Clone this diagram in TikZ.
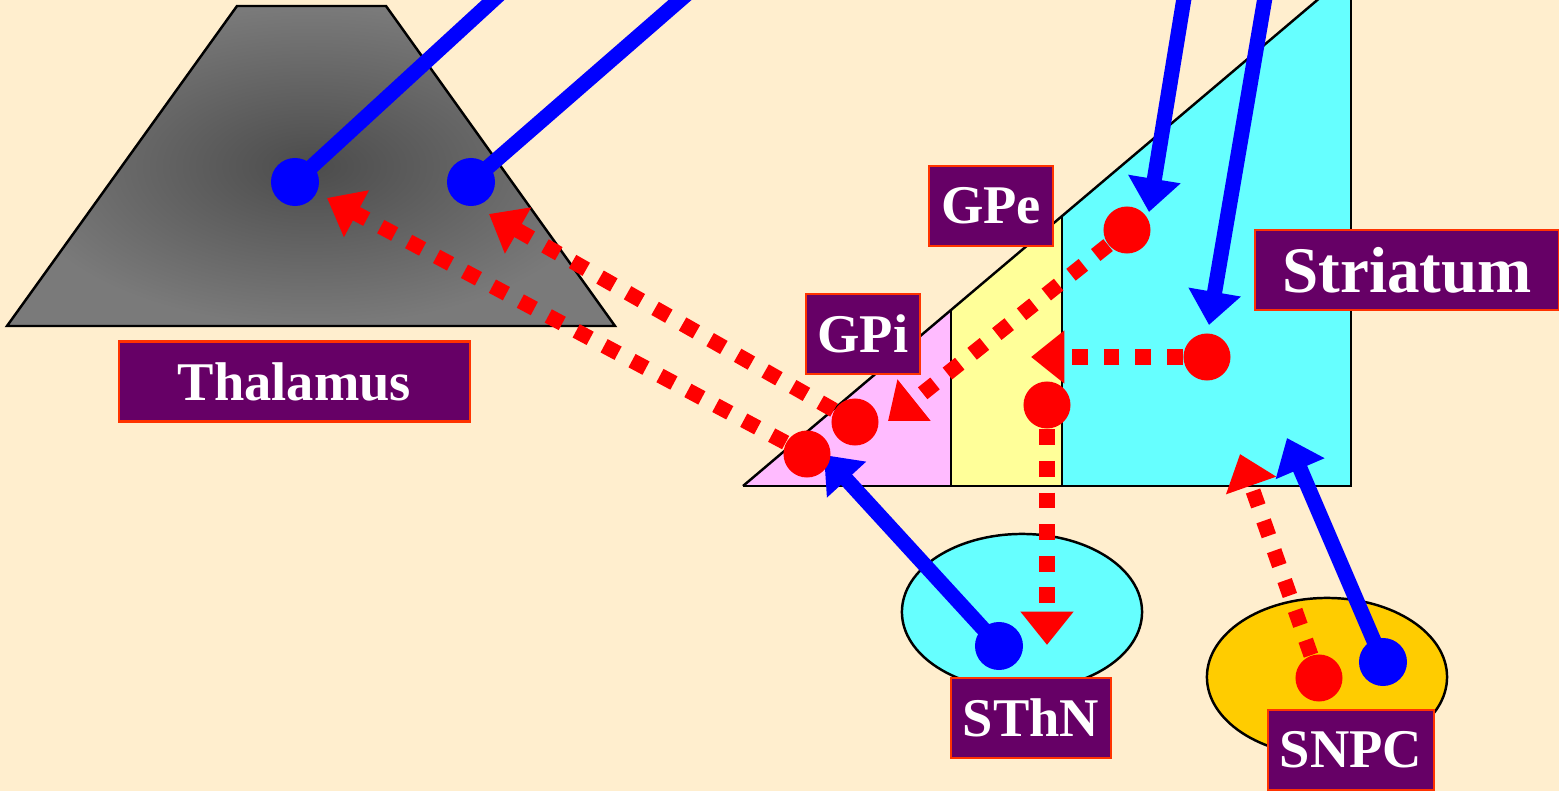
\documentclass[tikz,border=0pt]{standalone}
\usepackage{fontspec}
\setmainfont{Liberation Serif}
\usetikzlibrary{arrows.meta}
\definecolor{paper}{RGB}{255,238,206}
\definecolor{plum}{RGB}{102,0,102}
\definecolor{rim}{RGB}{255,51,0}
\definecolor{gpipink}{RGB}{255,187,255}
\definecolor{gpeyellow}{RGB}{255,255,153}
\definecolor{aqua}{RGB}{102,255,255}
\definecolor{gold}{RGB}{255,204,0}
\definecolor{thaldark}{RGB}{76,76,76}
\definecolor{thallight}{RGB}{122,122,122}
\pgfdeclarelayer{back}
\pgfdeclarelayer{mid}
\pgfsetlayers{back,mid,main}
\tikzstyle{namebox} = [rectangle, minimum height=0.8cm, text centered, draw=rim, line width=0.6pt, fill=plum, text=white, font=\bfseries\fontsize{15.5}{18}\selectfont]
\tikzstyle{bdot} = [circle, minimum size=0.48cm, inner sep=0pt, fill=blue]
\tikzstyle{rdot} = [circle, minimum size=0.47cm, inner sep=0pt, fill=red]
\tikzstyle{bline} = [line width=4.3pt, blue]
\tikzstyle{barrow} = [bline, -{Triangle[length=9.5pt,width=14.5pt]}]
\tikzstyle{rarrow} = [line width=4.3pt, red, dash pattern=on 4.5pt off 4.5pt, -{Triangle[length=9.5pt,width=14.5pt]}]

\begin{document}
\begin{tikzpicture}[x=0.01cm, y=-0.01cm]

\clip (0,0) rectangle (1559,791);

\begin{pgfonlayer}{back}
\fill[paper] (0,0) rectangle (1559,791);
% thalamus
\draw[line width=0.7pt, inner color=thaldark, outer color=thallight] (237,6) -- (386,6) -- (615,326) -- (7,326) -- cycle;
% basal ganglia
\fill[gpipink] (743,486) -- (951,310) -- (951,486) -- cycle;
\fill[gpeyellow] (951,486) -- (951,310) -- (1062,216) -- (1062,486) -- cycle;
\fill[aqua] (1062,486) -- (1062,216) -- (1341,-20) -- (1351,-20) -- (1351,486) -- cycle;
\draw[line width=0.7pt] (743,486) -- (1341,-20);
\draw[line width=0.8pt] (1351,-20) -- (1351,486) -- (743,486);
\draw[line width=0.7pt] (951,486) -- (951,310);
\draw[line width=0.7pt] (1062,486) -- (1062,216);
\draw[line width=0.7pt, fill=aqua] (1022,612) ellipse [x radius=1.2cm, y radius=0.78cm];
\draw[line width=0.7pt, fill=gold] (1327,677) ellipse [x radius=1.2cm, y radius=0.79cm];

\node (thal) [namebox, minimum width=3.51cm] at (294.5,381.5) {Thalamus};
\node (gpe) [namebox, minimum width=1.12cm] at (991,206) {GPe};
\node (gpi) [namebox, minimum width=1.12cm] at (863,334) {GPi};
\node (stri) [namebox, minimum width=3.04cm, font=\bfseries\fontsize{18.5}{21}\selectfont] at (1407,270) {Striatum};
\node (sthn) [namebox, minimum width=1.6cm] at (1031,718) {SThN};
\node (snpc) [namebox, minimum width=1.6cm] at (1351,750) {SNPC};
\end{pgfonlayer}

\node (t1) [bdot] at (295,182) {};
\node (t2) [bdot] at (471,182) {};
\node (s1) [rdot] at (1127,230) {};
\node (s2) [rdot] at (1207,357) {};
\node (e1) [rdot] at (1047,405) {};
\node (i1) [rdot] at (855,422) {};
\node (i2) [rdot] at (807,454) {};
\node (n1) [bdot] at (999,646) {};
\node (c1) [rdot] at (1319,678) {};
\node (c2) [bdot] at (1383,662) {};

\coordinate (top1) at (515,-20);
\coordinate (top2) at (703,-20);
\coordinate (top3) at (1187,-20);
\coordinate (top4) at (1268,-20);
\coordinate (s1tip) at (1149,212);
\coordinate (s2tip) at (1209,325);
\coordinate (n1tip) at (824,455);
\coordinate (c2tip) at (1287,438);
\coordinate (gpitip) at (888,421);
\coordinate (gpetip) at (1031,357);
\coordinate (sthntip) at (1047,645);
\coordinate (t2tip) at (489,214);
\coordinate (t1tip) at (327,198);
\coordinate (c1tip) at (1240,454);

\begin{pgfonlayer}{mid}
\draw [bline] (top1) -- (t1.center);
\draw [bline] (top2) -- (t2.center);
\draw [barrow] (top3) -- (s1tip);
\draw [barrow] (top4) -- (s2tip);
\draw [barrow] (n1.center) -- (n1tip);
\draw [barrow] (c2.center) -- (c2tip);
\draw [rarrow] (s1) -- (gpitip);
\draw [rarrow] (s2) -- (gpetip);
\draw [rarrow] (e1) -- (sthntip);
\draw [rarrow] (i1) -- (t2tip);
\draw [rarrow] (i2) -- (t1tip);
\draw [rarrow] (c1) -- (c1tip);
\end{pgfonlayer}

\end{tikzpicture}
\end{document}
